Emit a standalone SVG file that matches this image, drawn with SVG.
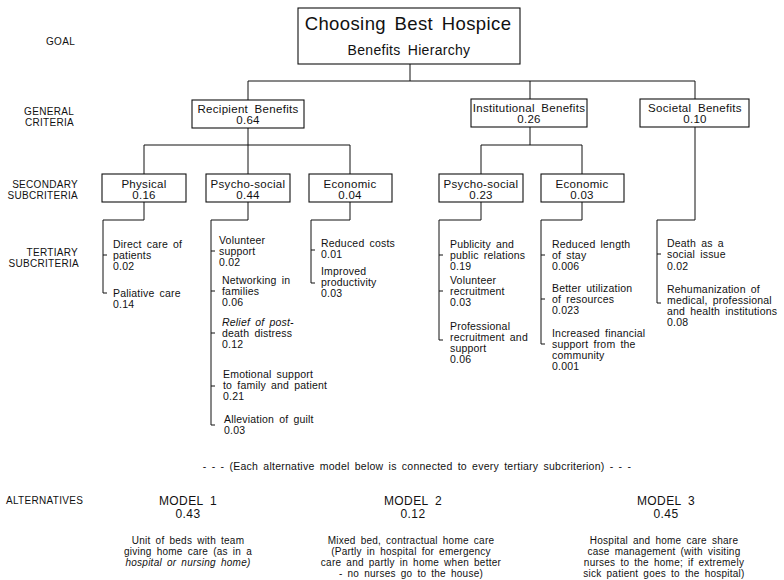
<svg xmlns="http://www.w3.org/2000/svg" width="784" height="580" viewBox="0 0 784 580">
<style>
text{font-family:"Liberation Sans",Arial,sans-serif;fill:#111}
.lbl{font-size:10px;letter-spacing:0.3px;text-anchor:end}
.nt{font-size:11.5px;letter-spacing:0.3px;word-spacing:3px;text-anchor:middle}
.it{font-size:10.5px;letter-spacing:0.2px;word-spacing:2px}
.alt{font-size:10px;letter-spacing:0.25px;word-spacing:2px;text-anchor:middle}
.mod{font-size:12px;letter-spacing:0.4px;word-spacing:3px;text-anchor:middle}
.box{fill:#fff;stroke:#111;stroke-width:1.1}
.ln{fill:none;stroke:#111;stroke-width:1}
.i{font-style:italic}
</style>
<rect width="784" height="580" fill="#fff"/>
<g id="level-labels">
<text class="lbl" x="75" y="45">GOAL</text>
<text class="lbl" x="74" y="115">GENERAL</text>
<text class="lbl" x="74" y="126">CRITERIA</text>
<text class="lbl" x="78" y="188">SECONDARY</text>
<text class="lbl" x="78" y="199">SUBCRITERIA</text>
<text class="lbl" x="78" y="256">TERTIARY</text>
<text class="lbl" x="79" y="267">SUBCRITERIA</text>
<text class="lbl" x="6" y="504" style="text-anchor:start">ALTERNATIVES</text>
</g>
<g id="connectors">
<path class="ln" d="M410,64V81M248,81H695M248,81V100M530,81V99M695,81V99"/>
<path class="ln" d="M248,128V145M144,145H350M144,145V174M248,145V174M350,145V174"/>
<path class="ln" d="M530,127V145M481,145H582M481,145V174M582,145V174"/>
<path class="ln" d="M144,202V220H103V293H107M103,255H107"/>
<path class="ln" d="M248,202V220H211V425H215M211,251H215M211,291H215M211,333H215M211,386H215"/>
<path class="ln" d="M350,202V220H311V283H315M311,250H315"/>
<path class="ln" d="M481,202V220H439V340H443M439,255H443M439,291H443"/>
<path class="ln" d="M582,202V220H541V344H545M541,255H545M541,299H545"/>
<path class="ln" d="M695,127V220H657V303H661M657,254H661"/>
</g>
<g id="goal">
<rect class="box" x="298" y="8" width="222" height="56"/>
<text x="408" y="30" style="font-size:18.5px;letter-spacing:0.4px;word-spacing:3px;text-anchor:middle">Choosing Best Hospice</text>
<text x="409" y="55" style="font-size:14px;letter-spacing:0.3px;word-spacing:3px;text-anchor:middle">Benefits Hierarchy</text>
</g>
<g id="recipient-benefits">
<rect class="box" x="192" y="100" width="112" height="28"/>
<text class="nt" x="248" y="113">Recipient Benefits</text>
<text class="nt" x="248" y="124">0.64</text>
</g>
<g id="institutional-benefits">
<rect class="box" x="471" y="99" width="116" height="28"/>
<text class="nt" x="529" y="112">Institutional Benefits</text>
<text class="nt" x="529" y="123">0.26</text>
</g>
<g id="societal-benefits">
<rect class="box" x="640" y="99" width="109" height="28"/>
<text class="nt" x="695" y="112">Societal Benefits</text>
<text class="nt" x="695" y="123">0.10</text>
</g>
<g id="physical">
<rect class="box" x="102" y="174" width="84" height="28"/>
<text class="nt" x="144" y="188">Physical</text>
<text class="nt" x="144" y="199">0.16</text>
</g>
<g id="recipient-psycho-social">
<rect class="box" x="206" y="174" width="84" height="28"/>
<text class="nt" x="248" y="188">Psycho-social</text>
<text class="nt" x="248" y="199">0.44</text>
</g>
<g id="recipient-economic">
<rect class="box" x="309" y="174" width="83" height="28"/>
<text class="nt" x="350" y="188">Economic</text>
<text class="nt" x="350" y="199">0.04</text>
</g>
<g id="institutional-psycho-social">
<rect class="box" x="439" y="174" width="84" height="28"/>
<text class="nt" x="481" y="188">Psycho-social</text>
<text class="nt" x="481" y="199">0.23</text>
</g>
<g id="institutional-economic">
<rect class="box" x="541" y="174" width="83" height="28"/>
<text class="nt" x="582" y="188">Economic</text>
<text class="nt" x="582" y="199">0.03</text>
</g>
<g id="physical-items">
<text class="it" x="113" y="248">Direct care of</text>
<text class="it" x="113" y="259">patients</text>
<text class="it" x="113" y="270">0.02</text>
<text class="it" x="113" y="297">Paliative care</text>
<text class="it" x="113" y="308">0.14</text>
</g>
<g id="recipient-psycho-social-items">
<text class="it" x="219" y="244">Volunteer</text>
<text class="it" x="219" y="255">support</text>
<text class="it" x="219" y="266">0.02</text>
<text class="it" x="222" y="284">Networking in</text>
<text class="it" x="222" y="295">families</text>
<text class="it" x="222" y="306">0.06</text>
<text class="it i" x="222" y="326">Relief of post-</text>
<text class="it" x="222" y="337">death distress</text>
<text class="it" x="222" y="348">0.12</text>
<text class="it" x="223" y="378">Emotional support</text>
<text class="it" x="223" y="389">to family and patient</text>
<text class="it" x="223" y="400">0.21</text>
<text class="it" x="224" y="423">Alleviation of guilt</text>
<text class="it" x="224" y="434">0.03</text>
</g>
<g id="recipient-economic-items">
<text class="it" x="321" y="247">Reduced costs</text>
<text class="it" x="321" y="258">0.01</text>
<text class="it" x="321" y="275">Improved</text>
<text class="it" x="321" y="286">productivity</text>
<text class="it" x="321" y="297">0.03</text>
</g>
<g id="institutional-psycho-social-items">
<text class="it" x="450" y="248">Publicity and</text>
<text class="it" x="450" y="259">public relations</text>
<text class="it" x="450" y="270">0.19</text>
<text class="it" x="450" y="284">Volunteer</text>
<text class="it" x="450" y="295">recruitment</text>
<text class="it" x="450" y="306">0.03</text>
<text class="it" x="450" y="330">Professional</text>
<text class="it" x="450" y="341">recruitment and</text>
<text class="it" x="450" y="352">support</text>
<text class="it" x="450" y="363">0.06</text>
</g>
<g id="institutional-economic-items">
<text class="it" x="552" y="248">Reduced length</text>
<text class="it" x="552" y="259">of stay</text>
<text class="it" x="552" y="270">0.006</text>
<text class="it" x="552" y="292">Better utilization</text>
<text class="it" x="552" y="303">of resources</text>
<text class="it" x="552" y="314">0.023</text>
<text class="it" x="552" y="337">Increased financial</text>
<text class="it" x="552" y="348">support from the</text>
<text class="it" x="552" y="359">community</text>
<text class="it" x="552" y="370">0.001</text>
</g>
<g id="societal-items">
<text class="it" x="667" y="247">Death as a</text>
<text class="it" x="667" y="258">social issue</text>
<text class="it" x="667" y="270">0.02</text>
<text class="it" x="667" y="293">Rehumanization of</text>
<text class="it" x="667" y="304">medical, professional</text>
<text class="it" x="667" y="315">and health institutions</text>
<text class="it" x="667" y="326">0.08</text>
</g>
<g id="alternatives-note">
<text class="alt" x="417" y="470" style="font-size:10.5px">- - - (Each alternative model below is connected to every tertiary subcriterion) - - -</text>
</g>
<g id="model-1">
<text class="mod" x="188" y="505">MODEL 1</text>
<text class="mod" x="188" y="518">0.43</text>
<text class="alt" x="188" y="544">Unit of beds with team</text>
<text class="alt" x="188" y="555">giving home care (as in a</text>
<text class="alt i" x="188" y="566">hospital or nursing home)</text>
</g>
<g id="model-2">
<text class="mod" x="413" y="505">MODEL 2</text>
<text class="mod" x="413" y="518">0.12</text>
<text class="alt" x="411" y="544">Mixed bed, contractual home care</text>
<text class="alt" x="411" y="555">(Partly in hospital for emergency</text>
<text class="alt" x="411" y="566">care and partly in home when better</text>
<text class="alt" x="411" y="577">- no nurses go to the house)</text>
</g>
<g id="model-3">
<text class="mod" x="666" y="505">MODEL 3</text>
<text class="mod" x="666" y="518">0.45</text>
<text class="alt" x="664" y="544">Hospital and home care share</text>
<text class="alt" x="664" y="555">case management (with visiting</text>
<text class="alt" x="664" y="566">nurses to the home; if extremely</text>
<text class="alt" x="664" y="577">sick patient goes to the hospital)</text>
</g>
</svg>
